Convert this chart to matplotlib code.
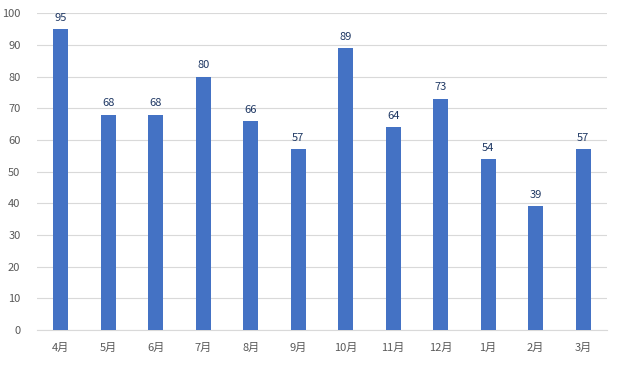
import matplotlib.pyplot as plt
import numpy as np

plt.rcParams['font.family'] = ['Noto Sans CJK SC', 'DejaVu Sans']

months = ['4月', '5月', '6月', '7月', '8月', '9月', '10月', '11月', '12月', '1月', '2月', '3月']
values = [95, 68, 68, 80, 66, 57, 89, 64, 73, 54, 39, 57]

fig = plt.figure(figsize=(6.18, 3.65), dpi=100)
ax = fig.add_axes([0.06, 0.096, 0.922, 0.868])

x = np.arange(len(months))
ax.bar(x, values, width=0.32, color='#4472C4', zorder=3)

# 数据标签
for xi, v in zip(x, values):
    ax.text(xi, v + 2, str(v), ha='center', va='bottom', fontsize=8, color='#1F3864')

ax.set_xlim(-0.5, len(months) - 0.5)
ax.set_ylim(0, 100)
ax.set_yticks(range(0, 101, 10))
ax.set_xticks(x)
ax.set_xticklabels(months)
ax.tick_params(axis='both', length=0, labelsize=8, colors='#595959')
ax.tick_params(axis='x', pad=9)
ax.tick_params(axis='y', pad=12)
ax.grid(axis='y', color='#D9D9D9', linewidth=0.8, zorder=0)

for s in ['top', 'right', 'left']:
    ax.spines[s].set_visible(False)
ax.spines['bottom'].set_color('#D9D9D9')

fig.savefig('out.png', dpi=100)
